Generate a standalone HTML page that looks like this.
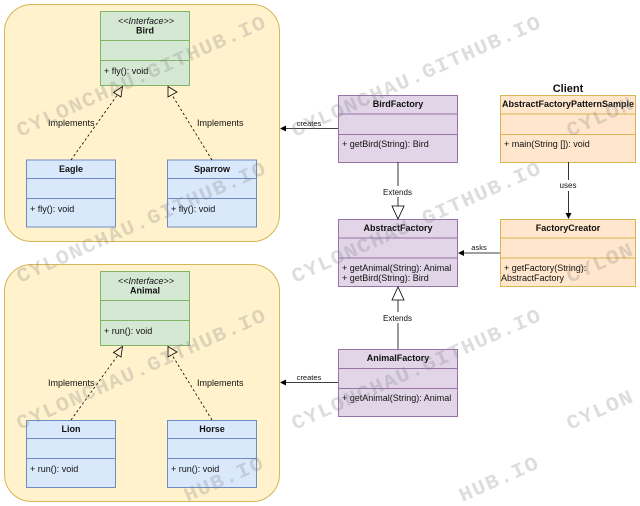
<!DOCTYPE html>
<html>
<head>
<meta charset="utf-8">
<style>
html,body{margin:0;padding:0;background:#fff;width:640px;height:506px;overflow:hidden}
svg{display:block;filter:blur(.3px)}
text{font-family:"Liberation Sans",sans-serif;font-size:9px;fill:#111}
.b{font-weight:bold}
.m{text-anchor:middle}
text.wm{font-family:"Liberation Mono",monospace;font-size:20px;letter-spacing:1.24px;fill:#808080;fill-opacity:.27;font-weight:bold}
.g{fill:#d5e8d4;stroke:#82b366}
.u{fill:#dae8fc;stroke:#6c8ebf}
.p{fill:#e1d5e7;stroke:#9673a6}
.o{fill:#ffe6cc;stroke:#d6b656}
.c{fill:#fff2cc;stroke:#d6b656}
.l{stroke:#000;fill:none;stroke-width:.8}
.d{stroke:#000;fill:none;stroke-width:.8;stroke-dasharray:2.4 2.4}
.t{fill:#fff;stroke:#000;stroke-width:.8}
.h{fill:#fff2cc;stroke:#000;stroke-width:.8}
</style>
</head>
<body>
<svg width="640" height="506" viewBox="0 0 640 506" xmlns="http://www.w3.org/2000/svg">
<rect class="c" x="4.5" y="4.5" width="275" height="237" rx="27"/>
<rect class="c" x="4.5" y="264.5" width="275" height="237" rx="27"/>

<!-- Bird -->
<rect class="g" x="100.5" y="11.5" width="89" height="74"/>
<path d="M100.5 40.5H189.5M100.5 60.5H189.5" stroke="#82b366" fill="none"/>
<text class="m" x="146" y="24" style="font-style:italic">&lt;&lt;Interface&gt;&gt;</text>
<text class="b m" x="145" y="33.5">Bird</text>
<text x="104" y="74">+ fly(): void</text>

<!-- Eagle -->
<rect class="u" x="26.5" y="160" width="89" height="67"/>
<path d="M26.5 178.5H115.5M26.5 198.5H115.5" stroke="#6c8ebf" fill="none"/>
<text class="b m" x="71" y="172">Eagle</text>
<text x="30" y="212">+ fly(): void</text>

<!-- Sparrow -->
<rect class="u" x="167.5" y="160" width="89" height="67"/>
<path d="M167.5 178.5H256.5M167.5 198.5H256.5" stroke="#6c8ebf" fill="none"/>
<text class="b m" x="212" y="172">Sparrow</text>
<text x="171" y="212">+ fly(): void</text>

<!-- Animal -->
<rect class="g" x="100.5" y="271.5" width="89" height="74"/>
<path d="M100.5 300.5H189.5M100.5 320.5H189.5" stroke="#82b366" fill="none"/>
<text class="m" x="146" y="284" style="font-style:italic">&lt;&lt;Interface&gt;&gt;</text>
<text class="b m" x="145" y="293.5">Animal</text>
<text x="104" y="334">+ run(): void</text>

<!-- Lion -->
<rect class="u" x="26.5" y="420.5" width="89" height="67"/>
<path d="M26.5 438.5H115.5M26.5 458.5H115.5" stroke="#6c8ebf" fill="none"/>
<text class="b m" x="71" y="432">Lion</text>
<text x="30" y="472">+ run(): void</text>

<!-- Horse -->
<rect class="u" x="167.5" y="420.5" width="89" height="67"/>
<path d="M167.5 438.5H256.5M167.5 458.5H256.5" stroke="#6c8ebf" fill="none"/>
<text class="b m" x="212" y="432">Horse</text>
<text x="171" y="472">+ run(): void</text>

<!-- Factories -->
<rect class="p" x="338.5" y="95.5" width="119" height="67"/>
<path d="M338.5 114H457.5M338.5 134.5H457.5" stroke="#9673a6" fill="none"/>
<text class="b m" x="398" y="107">BirdFactory</text>
<text x="342" y="147">+ getBird(String): Bird</text>

<rect class="p" x="338.5" y="219.5" width="119" height="67"/>
<path d="M338.5 238H457.5M338.5 258H457.5" stroke="#9673a6" fill="none"/>
<text class="b m" x="398" y="231">AbstractFactory</text>
<text x="342" y="271">+ getAnimal(String): Animal</text>
<text x="342" y="281">+ getBird(String): Bird</text>

<rect class="p" x="338.5" y="349.5" width="119" height="67"/>
<path d="M338.5 368.5H457.5M338.5 388.5H457.5" stroke="#9673a6" fill="none"/>
<text class="b m" x="398" y="361">AnimalFactory</text>
<text x="342" y="401">+ getAnimal(String): Animal</text>

<!-- Client -->
<text class="b m" x="568" y="92" style="font-size:11px">Client</text>
<rect class="o" x="500.5" y="95.5" width="135" height="67"/>
<path d="M500.5 114H635.5M500.5 134.5H635.5" stroke="#d6b656" fill="none"/>
<text class="b m" x="568" y="107">AbstractFactoryPatternSample</text>
<text x="504" y="147">+ main(String []): void</text>

<rect class="o" x="500.5" y="219.5" width="135" height="67"/>
<path d="M500.5 238H635.5M500.5 258H635.5" stroke="#d6b656" fill="none"/>
<text class="b m" x="568" y="231">FactoryCreator</text>
<text x="504" y="271">+ getFactory(String):</text>
<text x="501" y="281">AbstractFactory</text>

<!-- Connectors -->
<path class="l" d="M338 128.5H285"/>
<path d="M280 128.5L286 125.5V131.5Z" fill="#000"/>
<text class="m" x="309" y="126" style="font-size:7.5px">creates</text>

<path class="l" d="M338 382.5H285"/>
<path d="M280 382.5L286 379.5V385.5Z" fill="#000"/>
<text class="m" x="309" y="380" style="font-size:7.5px">creates</text>

<path class="l" d="M500 253H463"/>
<path d="M458 253L464 250V256Z" fill="#000"/>
<text class="m" x="479" y="250" style="font-size:7.5px">asks</text>

<path class="l" d="M568.5 162V214"/>
<path d="M568.5 219L565.5 213H571.5Z" fill="#000"/>
<rect x="558" y="180" width="22" height="11" fill="#fff"/>
<text class="m" x="568" y="188" style="font-size:8px">uses</text>

<path class="l" d="M398 162V206"/>
<path class="t" d="M392 206H404L398 219Z"/>
<rect x="382" y="186" width="32" height="11" fill="#fff"/>
<text class="m" x="397.5" y="195" style="font-size:8px">Extends</text>

<path class="l" d="M398 349V300"/>
<path class="t" d="M392 300H404L398 287Z"/>
<rect x="382" y="312" width="32" height="11" fill="#fff"/>
<text class="m" x="397.5" y="321" style="font-size:8px">Extends</text>

<!-- Implements top -->
<path class="d" d="M71 160L118 94"/>
<path class="h" d="M122.5 86.5L113.5 92.5L121 97Z"/>
<path class="d" d="M212 160L172 95"/>
<path class="h" d="M168 86.5L168 97L177 92Z"/>
<text x="48" y="126">Implements</text>
<text x="197" y="126">Implements</text>

<!-- Implements bottom -->
<path class="d" d="M71 420L118 355"/>
<path class="h" d="M122.5 346.5L113.5 352.5L121 357Z"/>
<path class="d" d="M212 420L172 355"/>
<path class="h" d="M168 346.5L168 357L177 352Z"/>
<text x="48" y="386">Implements</text>
<text x="197" y="386">Implements</text>

<!-- Watermarks -->
<g>
<text class="wm" transform="translate(20 137) rotate(-24) scale(1.08 1)">CYLONCHAU.GITHUB.IO</text>
<text class="wm" transform="translate(295 137) rotate(-24) scale(1.08 1)">CYLONCHAU.GITHUB.IO</text>
<text class="wm" transform="translate(570 137) rotate(-24) scale(1.08 1)">CYLON</text>
<text class="wm" transform="translate(20 283) rotate(-24) scale(1.08 1)">CYLONCHAU.GITHUB.IO</text>
<text class="wm" transform="translate(295 283) rotate(-24) scale(1.08 1)">CYLONCHAU.GITHUB.IO</text>
<text class="wm" transform="translate(570 283) rotate(-24) scale(1.08 1)">CYLON</text>
<text class="wm" transform="translate(20 430) rotate(-24) scale(1.08 1)">CYLONCHAU.GITHUB.IO</text>
<text class="wm" transform="translate(295 430) rotate(-24) scale(1.08 1)">CYLONCHAU.GITHUB.IO</text>
<text class="wm" transform="translate(570 430) rotate(-24) scale(1.08 1)">CYLON</text>
<text class="wm" transform="translate(187.5 502) rotate(-24) scale(1.08 1)">HUB.IO</text>
<text class="wm" transform="translate(462.5 502) rotate(-24) scale(1.08 1)">HUB.IO</text>
</g>
</svg>
</body>
</html>
